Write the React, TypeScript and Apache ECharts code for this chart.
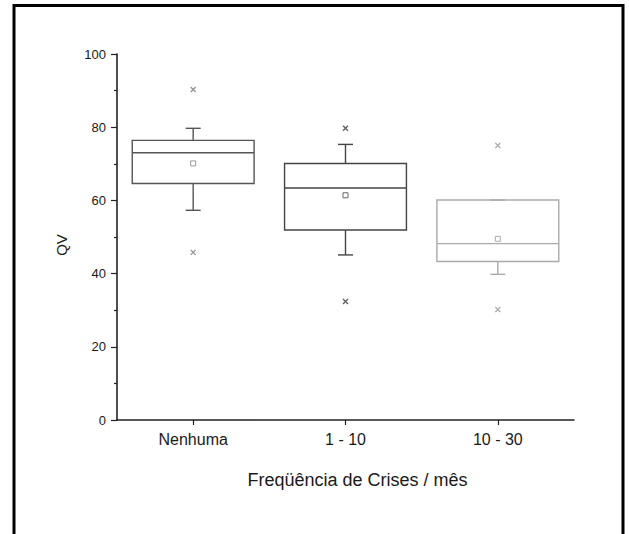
import React, { useEffect, useRef } from "react";
import * as echarts from "echarts";

const categories = ["Nenhuma", "1 - 10", "10 - 30"];
const whiskerLow = [57.3, 45.1, 39.8];
const quartile1 = [64.6, 51.9, 43.3];
const medians = [73.0, 63.4, 48.2];
const quartile3 = [76.4, 70.1, 60.1];
const whiskerHigh = [79.7, 75.3, 60.1];
const means = [70.1, 61.4, 49.5];
const outlierHigh = [90.3, 79.7, 75.0];
const outlierLow = [45.8, 32.4, 30.2];
const yTicks = [0, 20, 40, 60, 80, 100];

const boxColors = ["#555555", "#444444", "#aaaaaa"];
const meanColors = ["#999999", "#666666", "#aaaaaa"];
const outlierColors = ["#777777", "#333333", "#999999"];

const FONT = "Liberation Sans, Arial, Helvetica, sans-serif";
const TEXT = "#1a1a1a";

export default function App() {
  const ref = useRef<HTMLDivElement>(null);

  useEffect(() => {
    if (!ref.current) return;
    const chart = echarts.init(ref.current, undefined, { renderer: "svg" });

    const boxData = categories.map((_, i) => [
      i,
      whiskerLow[i],
      quartile1[i],
      medians[i],
      quartile3[i],
      whiskerHigh[i],
      means[i],
    ]);

    const outlierData: any[] = [];
    categories.forEach((_, i) => {
      outlierData.push({ value: [i, outlierHigh[i]], itemStyle: { borderColor: outlierColors[i] } });
      outlierData.push({ value: [i, outlierLow[i]], itemStyle: { borderColor: outlierColors[i] } });
    });

    const option: any = {
      animation: false,
      backgroundColor: "#ffffff",
      grid: { left: 117, right: 55, top: 54, bottom: 114, containLabel: false },
      graphic: [
        {
          type: "rect",
          shape: { x: 14, y: 5.5, width: 609, height: 560 },
          style: { fill: "none", stroke: "#000000", lineWidth: 3 },
          silent: true,
          z: 100,
        },
      ],
      xAxis: {
        type: "category",
        data: categories,
        boundaryGap: true,
        axisLine: { lineStyle: { color: "#222222", width: 1.6 } },
        axisTick: { show: true, alignWithLabel: true, length: 5, lineStyle: { color: "#222222", width: 1.2 } },
        axisLabel: { fontSize: 16, color: TEXT, margin: 11, fontFamily: FONT },
        splitLine: { show: false },
        name: "Freqüência de Crises / mês",
        nameLocation: "middle",
        nameGap: 51,
        nameTextStyle: { fontSize: 18, color: TEXT, fontFamily: FONT, padding: [0, 0, 0, 24] },
      },
      yAxis: {
        type: "value",
        min: yTicks[0],
        max: yTicks[yTicks.length - 1],
        interval: 20,
        axisLine: { show: true, lineStyle: { color: "#222222", width: 1.6 } },
        axisTick: { show: true, length: 6, lineStyle: { color: "#222222", width: 1.2 } },
        minorTick: { show: true, splitNumber: 2, length: 3, lineStyle: { color: "#222222", width: 1.2 } },
        axisLabel: { fontSize: 13, color: TEXT, margin: 11, fontFamily: FONT },
        splitLine: { show: false },
        name: "QV",
        nameLocation: "middle",
        nameGap: 48,
        nameRotate: 90,
        nameTextStyle: { fontSize: 15, color: TEXT, fontFamily: FONT, padding: [0, 16, 0, 0] },
      },
      series: [
        {
          type: "custom",
          data: boxData,
          encode: { x: 0, y: [1, 2, 3, 4, 5, 6] },
          renderItem: (params: any, api: any) => {
            const i = params.dataIndex;
            const x = api.value(0);
            const lo = api.coord([x, api.value(1)]);
            const q1 = api.coord([x, api.value(2)]);
            const med = api.coord([x, api.value(3)]);
            const q3 = api.coord([x, api.value(4)]);
            const hi = api.coord([x, api.value(5)]);
            const mn = api.coord([x, api.value(6)]);
            const cx = lo[0];
            const bw = api.size([1, 0])[0] * 0.8;
            const cw = 15;
            const stroke = boxColors[i];
            const ls = { stroke, lineWidth: 1.4, fill: "none" };
            return {
              type: "group",
              children: [
                { type: "line", shape: { x1: cx, y1: q3[1], x2: cx, y2: hi[1] }, style: ls },
                { type: "line", shape: { x1: cx - cw / 2, y1: hi[1], x2: cx + cw / 2, y2: hi[1] }, style: ls },
                { type: "line", shape: { x1: cx, y1: q1[1], x2: cx, y2: lo[1] }, style: ls },
                { type: "line", shape: { x1: cx - cw / 2, y1: lo[1], x2: cx + cw / 2, y2: lo[1] }, style: ls },
                {
                  type: "rect",
                  shape: { x: cx - bw / 2, y: q3[1], width: bw, height: q1[1] - q3[1] },
                  style: ls,
                },
                { type: "line", shape: { x1: cx - bw / 2, y1: med[1], x2: cx + bw / 2, y2: med[1] }, style: ls },
                {
                  type: "rect",
                  shape: { x: mn[0] - 2.5, y: mn[1] - 2.5, width: 5, height: 5 },
                  style: { stroke: meanColors[i], lineWidth: 1, fill: "none" },
                },
              ],
            };
          },
          z: 2,
        },
        {
          type: "scatter",
          data: outlierData,
          symbol: "path://M0,0L10,10M10,0L0,10",
          symbolSize: 5,
          itemStyle: { color: "none", borderWidth: 1.3 },
          z: 3,
        },
      ],
    };

    chart.setOption(option);
    return () => chart.dispose();
  }, []);

  return (
    <div
      ref={ref}
      style={{ position: "absolute", left: 0, top: 0, width: 629, height: 534, background: "#fff" }}
    />
  );
}
